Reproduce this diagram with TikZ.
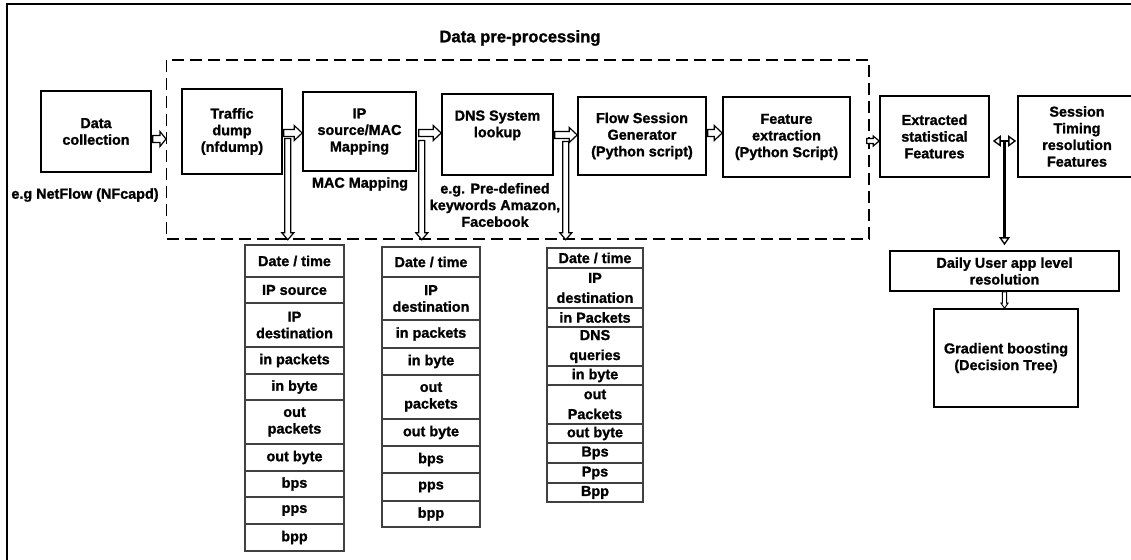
\documentclass[tikz,border=0pt]{standalone}
\usepackage{fontspec}
\setmainfont{Liberation Sans}[BoldFeatures={FakeBold=1.3}]
\usetikzlibrary{calc,arrows.meta}
\newdimen\pxu \pxu=0.75pt
\tikzset{
  baw/.code={\pgfmathsetlengthmacro\baW{#1}},
  bahw/.code={\pgfmathsetlengthmacro\baH{#1}},
  bahl/.code={\pgfmathsetlengthmacro\baL{#1}},
  barr/.style={draw=black, line width=0.9pt, fill=white, line join=miter,
    to path={let \p1=(\tikztostart), \p2=(\tikztotarget),
      \n1={atan2(\y2-\y1,\x2-\x1)}, \p3=($(\p2)!\baL!(\p1)$) in
      ($(\p1)+(\n1+90:\baW)$) -- ($(\p3)+(\n1+90:\baW)$) -- ($(\p3)+(\n1+90:\baH)$)
      -- (\p2) -- ($(\p3)+(\n1-90:\baH)$) -- ($(\p3)+(\n1-90:\baW)$)
      -- ($(\p1)+(\n1-90:\baW)$) -- cycle}},
  harrow/.style={barr, baw=3.5\pxu, bahw=7.5\pxu, bahl=8\pxu},
  sharrow/.style={barr, baw=2.5\pxu, bahw=5\pxu, bahl=6\pxu},
  varrow/.style={barr, baw=3\pxu, bahw=6\pxu, bahl=7\pxu},
  tarrow/.style={barr, line width=0.7pt, baw=2.2\pxu, bahw=3.5\pxu, bahl=5\pxu},
  box/.style={draw, line width=1.2pt, align=center, inner sep=2pt},
  cell/.style={draw=black!75, line width=1pt, inner sep=0pt, outer sep=0pt, align=center, anchor=north},
  ta/.style={cell, minimum width=99\pxu},
  tb/.style={cell, minimum width=98\pxu},
  tc/.style={cell, minimum width=96\pxu, font=\bfseries\fontsize{10.8}{15}\selectfont},
  rh/.style={minimum height=#1\pxu},
}
\begin{document}
\begin{tikzpicture}[x=0.75pt, y=-0.75pt, font=\bfseries\fontsize{10.8}{12.5}\selectfont]
\useasboundingbox (0,0) rectangle (1131,560);
% outer frame (only left and top edges visible)
\draw[line width=1.5pt] (6.5,600) -- (6.5,4.5) -- (1150,4.5);

% title and dashed pre-processing frame
\node (title) at (520,38) {\fontsize{12.5}{15}\selectfont Data pre-processing};
\node[draw, line width=1.1pt, dash pattern=on 9pt off 4.5pt, minimum width=702.3\pxu, minimum height=179\pxu] (pre) at (517.85,149.5) {};

% main boxes
\node[box, minimum width=110\pxu, minimum height=81\pxu] (dc) at (96,131.5) {Data\\collection};
\node[box, minimum width=100\pxu, minimum height=85\pxu] (td) at (232,131.5) {Traffic\\dump\\(nfdump)};
\node[box, minimum width=113\pxu, minimum height=79\pxu] (ip) at (359.5,131.5) {IP\\source/MAC\\Mapping};
\node[box, minimum width=111\pxu, minimum height=81\pxu] (dns) at (497.5,134.5) {};
\node[anchor=north, align=center, inner sep=0pt] (dnst) at ($(dns.north)+(0,17)$) {DNS System\\lookup};
\node[box, minimum width=128\pxu, minimum height=78\pxu] (flow) at (642,136) {Flow Session\\Generator\\(Python script)};
\node[box, minimum width=127\pxu, minimum height=80\pxu] (feat) at (786.5,137) {Feature\\extraction\\(Python Script)};
\node[box, minimum width=109\pxu, minimum height=81\pxu] (ext) at (934.5,136.5) {Extracted\\statistical\\Features};
\node[box, minimum width=118\pxu, minimum height=81\pxu] (ses) at (1077,136.5) {Session\\Timing\\resolution\\Features};
\node[box, minimum width=229\pxu, minimum height=40\pxu] (daily) at (1004.5,271) {Daily User app level\\resolution};
\node[box, minimum width=144\pxu, minimum height=98\pxu] (grad) at (1006,358) {Gradient boosting\\(Decision Tree)};

% side labels
\node (dcl) at (85,195) {e.g NetFlow (NFcapd)};
\node (ipl) at (360,184) {MAC Mapping};
\node[align=center] (dnsl) at (495,205) {e.g. Pre-defined\\keywords Amazon,\\Facebook};

% horizontal block arrows
\coordinate (a1s) at ($(dc.east)+(1,7.5)$);
\draw[harrow, bahl=6\pxu] (a1s) to (a1s -| pre.west);
\coordinate (a2s) at ($(td.east)+(1,1.5)$);
\draw[harrow] (a2s) to (a2s -| ip.west);
\coordinate (a3s) at ($(ip.east)+(2,1.5)$);
\draw[harrow] (a3s) to (a3s -| dns.west);
\coordinate (a4s) at ($(dns.east)+(1,0.5)$);
\draw[harrow] (a4s) to (a4s -| flow.west);
\coordinate (a5s) at ($(flow.east)+(1,-3)$);
\draw[harrow] (a5s) to (a5s -| feat.west);
\coordinate (a6s) at ($(pre.east)+(-3,-8.5)$);
\draw[sharrow] (a6s) to (a6s -| ext.west);

% vertical block arrows to the tables
\coordinate (v1s) at ($(td.east)+(5,7)$);
\draw[varrow] (v1s) to (v1s |- pre.south);
\coordinate (v2s) at ($(ip.east)+(5,9)$);
\draw[varrow] (v2s) to (v2s |- pre.south);
\coordinate (v3s) at ($(dns.east)+(12,7)$);
\draw[varrow] (v3s) to (v3s |- pre.south);

% right part connectors
\coordinate (a7s) at ($(ext.east)+(3,4.5)$);
\coordinate (a7e) at ($(a7s -| ses.west)+(-1,0)$);
\coordinate (a8s) at ($(a7s)!0.5!(a7e)$);
\draw[line width=2pt, shorten >=5\pxu, -{Triangle[open,length=6pt,width=8pt,line width=1pt]}] (a8s) to (a8s |- daily.north);
\draw[line width=1.6pt, {Triangle[open,length=6pt,width=8.5pt,line width=1pt]}-{Triangle[open,length=6pt,width=8.5pt,line width=1pt]}] (a7s) to (a7e);
\draw[tarrow] (daily.south) to (daily.south |- grad.north);

% table 1
\node[ta, rh=32] (t1r1) at (294.5,245) {Date / time};
\node[ta, rh=26] (t1r2) at (t1r1.south) {IP source};
\node[ta, rh=44] (t1r3) at (t1r2.south) {IP\\destination};
\node[ta, rh=27] (t1r4) at (t1r3.south) {in packets};
\node[ta, rh=26] (t1r5) at (t1r4.south) {in byte};
\node[ta, rh=44] (t1r6) at (t1r5.south) {out\\packets};
\node[ta, rh=27] (t1r7) at (t1r6.south) {out byte};
\node[ta, rh=26] (t1r8) at (t1r7.south) {bps};
\node[ta, rh=27] (t1r9) at (t1r8.south) {pps};
\node[ta, rh=27] (t1r10) at (t1r9.south) {bpp};

% table 2
\node[tb, rh=30] (t2r1) at (431,247) {Date / time};
\node[tb, rh=43] (t2r2) at (t2r1.south) {IP\\destination};
\node[tb, rh=28] (t2r3) at (t2r2.south) {in packets};
\node[tb, rh=27] (t2r4) at (t2r3.south) {in byte};
\node[tb, rh=44] (t2r5) at (t2r4.south) {out\\packets};
\node[tb, rh=27] (t2r6) at (t2r5.south) {out byte};
\node[tb, rh=27] (t2r7) at (t2r6.south) {bps};
\node[tb, rh=28] (t2r8) at (t2r7.south) {pps};
\node[tb, rh=26] (t2r9) at (t2r8.south) {bpp};

% table 3
\node[tc, rh=20] (t3r1) at (595,248) {Date / time};
\node[tc, rh=40] (t3r2) at (t3r1.south) {IP\\destination};
\node[tc, rh=19] (t3r3) at (t3r2.south) {in Packets};
\node[tc, rh=39] (t3r4) at (t3r3.south) {DNS\\queries};
\node[tc, rh=19] (t3r5) at (t3r4.south) {in byte};
\node[tc, rh=39] (t3r6) at (t3r5.south) {out\\Packets};
\node[tc, rh=19] (t3r7) at (t3r6.south) {out byte};
\node[tc, rh=20] (t3r8) at (t3r7.south) {Bps};
\node[tc, rh=20] (t3r9) at (t3r8.south) {Pps};
\node[tc, rh=19] (t3r10) at (t3r9.south) {Bpp};
\end{tikzpicture}
\end{document}
